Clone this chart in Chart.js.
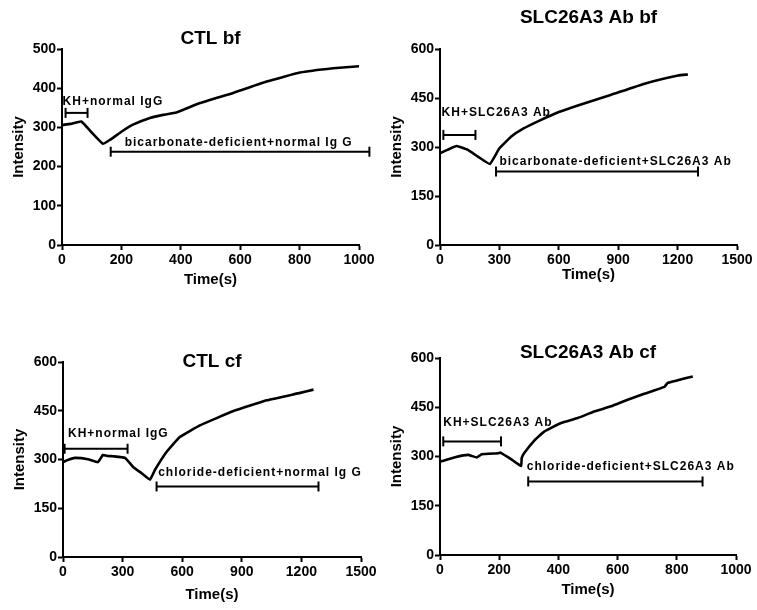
<!DOCTYPE html>
<html>
<head>
<meta charset="utf-8">
<script src="https://cdn.jsdelivr.net/npm/chart.js@4.4.0/dist/chart.umd.min.js"></script>
<style>
  body { margin: 0; background: #fff; width: 757px; height: 610px; position: relative; overflow: hidden; }
  canvas { position: absolute; }
</style>
</head>
<body>
<canvas id="ctlBf" width="378" height="295" style="left:0px;top:0px"></canvas>
<canvas id="slcBf" width="378" height="295" style="left:378px;top:0px"></canvas>
<canvas id="ctlCf" width="378" height="295" style="left:1px;top:313px"></canvas>
<canvas id="slcCf" width="378" height="295" style="left:378px;top:309px"></canvas>
<script>
// CTL bf
const ctlBfTime = [0, 30, 65, 100, 138, 161, 200, 239, 296, 340, 385, 464, 576, 689, 801, 913, 1000];
const ctlBfIntensity = [306, 309, 315, 287, 258, 268, 289, 307, 324, 332, 338, 362, 388, 417, 440, 451, 456];
const ctlBfBrackets = [[12, 86, 337], [164, 1035, 238]];
const ctlBfLabels = ['KH+normal IgG', 'bicarbonate-deficient+normal Ig G'];
const ctlBfLabelAt = [[2, 366], [211, 260]];

// SLC26A3 Ab bf
const slcBfTime = [0, 40, 84, 141, 193, 252, 300, 360, 420, 500, 600, 700, 865, 1033, 1202, 1252];
const slcBfIntensity = [281, 292, 303, 291, 270, 248, 296, 332, 356, 380, 407, 428, 460, 494, 519, 522];
const slcBfBrackets = [[17, 179, 337], [283, 1303, 225]];
const slcBfLabels = ['KH+SLC26A3 Ab', 'bicarbonate-deficient+SLC26A3 Ab'];
const slcBfLabelAt = [[8, 404], [300, 256]];

// CTL cf
const ctlCfTime = [0, 30, 60, 126, 176, 201, 226, 252, 312, 353, 395, 438, 463, 521, 588, 689, 858, 1026, 1194, 1261];
const ctlCfIntensity = [292, 300, 305, 301, 292, 314, 311, 310, 305, 277, 258, 238, 268, 323, 369, 405, 449, 482, 505, 515];
const ctlCfBrackets = [[8, 325, 333], [471, 1286, 217]];
const ctlCfLabels = ['KH+normal IgG', 'chloride-deficient+normal Ig G'];
const ctlCfLabelAt = [[25, 379], [479, 259]];

// SLC26A3 Ab cf
const slcCfTime = [0, 15, 51, 95, 124, 141, 197, 204, 240, 274, 276, 284, 320, 352, 409, 465, 521, 578, 634, 690, 758, 769, 803, 854];
const slcCfIntensity = [284, 288, 298, 305, 297, 307, 310, 312, 292, 271, 295, 310, 350, 376, 402, 417, 437, 453, 473, 491, 512, 524, 532, 544];
const slcCfBrackets = [[11, 206, 346], [298, 887, 224]];
const slcCfLabels = ['KH+SLC26A3 Ab', 'chloride-deficient+SLC26A3 Ab'];
const slcCfLabelAt = [[11, 402], [293, 270]];

const FONT = "'Liberation Sans', Arial, sans-serif";

// end caps of the brackets + the texts next to them
const bracketLabels = {
  id: 'bracketLabels',
  afterDatasetsDraw(chart, args, opts) {
    const ctx = chart.ctx;
    const x = chart.scales.x, y = chart.scales.y;
    ctx.save();
    ctx.strokeStyle = '#000';
    ctx.lineWidth = 2;
    chart.data.datasets.forEach((ds, i) => {
      if (!ds.bracket) return;
      chart.getDatasetMeta(i).data.forEach(pt => {
        ctx.beginPath();
        ctx.moveTo(pt.x, pt.y - 5);
        ctx.lineTo(pt.x, pt.y + 5);
        ctx.stroke();
      });
    });
    ctx.font = 'bold 12px ' + FONT;
    ctx.letterSpacing = '1px';
    ctx.fillStyle = '#000';
    ctx.textAlign = 'left';
    ctx.textBaseline = 'middle';
    opts.texts.forEach((t, i) => {
      ctx.fillText(t, x.getPixelForValue(opts.at[i][0]), y.getPixelForValue(opts.at[i][1]));
    });
    ctx.restore();
  }
};

function makePanel(id, p) {
  const W = 378, H = 295, top = 49, left = 62;
  const lh = 19 * 1.2;
  const padTop = p.titleY - lh / 2;
  const axisStyle = {
    border: { color: '#000', width: 2 },
    grid: { display: true, drawOnChartArea: false, drawTicks: true, tickLength: 5, tickWidth: 2, tickColor: '#000', color: '#000' }
  };
  const datasets = [{
    data: p.time.map((t, i) => ({ x: t, y: p.intensity[i] })),
    showLine: true,
    borderColor: '#000',
    borderWidth: 2.6,
    pointRadius: 0,
    tension: 0.1
  }];
  p.brackets.forEach(b => {
    datasets.push({
      bracket: true,
      data: [{ x: b[0], y: b[2] }, { x: b[1], y: b[2] }],
      showLine: true,
      borderColor: '#000',
      borderWidth: 2,
      pointRadius: 0,
      clip: false
    });
  });
  return new Chart(document.getElementById(id), {
    type: 'scatter',
    data: { datasets },
    options: {
      responsive: false,
      animation: false,
      events: [],
      layout: { padding: { left: 0, top: 0, bottom: 0, right: W - left - p.plotW } },
      plugins: {
        legend: { display: false },
        tooltip: { enabled: false },
        title: {
          display: true,
          text: p.title,
          fullSize: false,
          color: '#000',
          font: { family: FONT, size: 19, weight: 'bold', lineHeight: 1.2 },
          padding: { top: padTop, bottom: top - padTop - lh }
        },
        bracketLabels: { texts: p.labels, at: p.labelAt }
      },
      scales: {
        x: {
          type: 'linear',
          min: 0, max: p.xMax,
          ...axisStyle,
          afterFit: s => { s.height = H - top - p.plotH; },
          ticks: { stepSize: p.xStep, maxRotation: 0, autoSkip: false, padding: 2, color: '#000',
                   callback: v => String(v),
                   font: { family: FONT, size: 14, weight: 'bold' } },
          title: { display: true, text: 'Time(s)', color: '#000', padding: { top: 0, bottom: p.xTitlePad },
                   font: { family: FONT, size: 15, weight: 'bold', lineHeight: 1.2 } }
        },
        y: {
          min: 0, max: p.yMax,
          ...axisStyle,
          afterFit: s => { s.width = left; },
          ticks: { stepSize: p.yStep, padding: 1, color: '#000',
                   callback: v => String(v),
                   font: { family: FONT, size: 14, weight: 'bold' } },
          title: { display: true, text: 'Intensity', color: '#000', padding: { top: 10, bottom: 0 },
                   font: { family: FONT, size: 15, weight: 'bold', lineHeight: 1.2 } }
        }
      }
    },
    plugins: [bracketLabels]
  });
}

makePanel('ctlBf', {
  title: 'CTL bf', titleY: 39, xMax: 1000, xStep: 200, yMax: 500, yStep: 100,
  plotW: 297, plotH: 196, xTitlePad: 6,
  time: ctlBfTime, intensity: ctlBfIntensity, brackets: ctlBfBrackets,
  labels: ctlBfLabels, labelAt: ctlBfLabelAt
});
makePanel('slcBf', {
  title: 'SLC26A3 Ab bf', titleY: 18, xMax: 1500, xStep: 300, yMax: 600, yStep: 150,
  plotW: 297, plotH: 196, xTitlePad: 11,
  time: slcBfTime, intensity: slcBfIntensity, brackets: slcBfBrackets,
  labels: slcBfLabels, labelAt: slcBfLabelAt
});
makePanel('ctlCf', {
  title: 'CTL cf', titleY: 49, xMax: 1500, xStep: 300, yMax: 600, yStep: 150,
  plotW: 298, plotH: 195, xTitlePad: 4,
  time: ctlCfTime, intensity: ctlCfIntensity, brackets: ctlCfBrackets,
  labels: ctlCfLabels, labelAt: ctlCfLabelAt
});
makePanel('slcCf', {
  title: 'SLC26A3 Ab cf', titleY: 44, xMax: 1000, xStep: 200, yMax: 600, yStep: 150,
  plotW: 296, plotH: 197, xTitlePad: 5,
  time: slcCfTime, intensity: slcCfIntensity, brackets: slcCfBrackets,
  labels: slcCfLabels, labelAt: slcCfLabelAt
});
</script>
</body>
</html>
